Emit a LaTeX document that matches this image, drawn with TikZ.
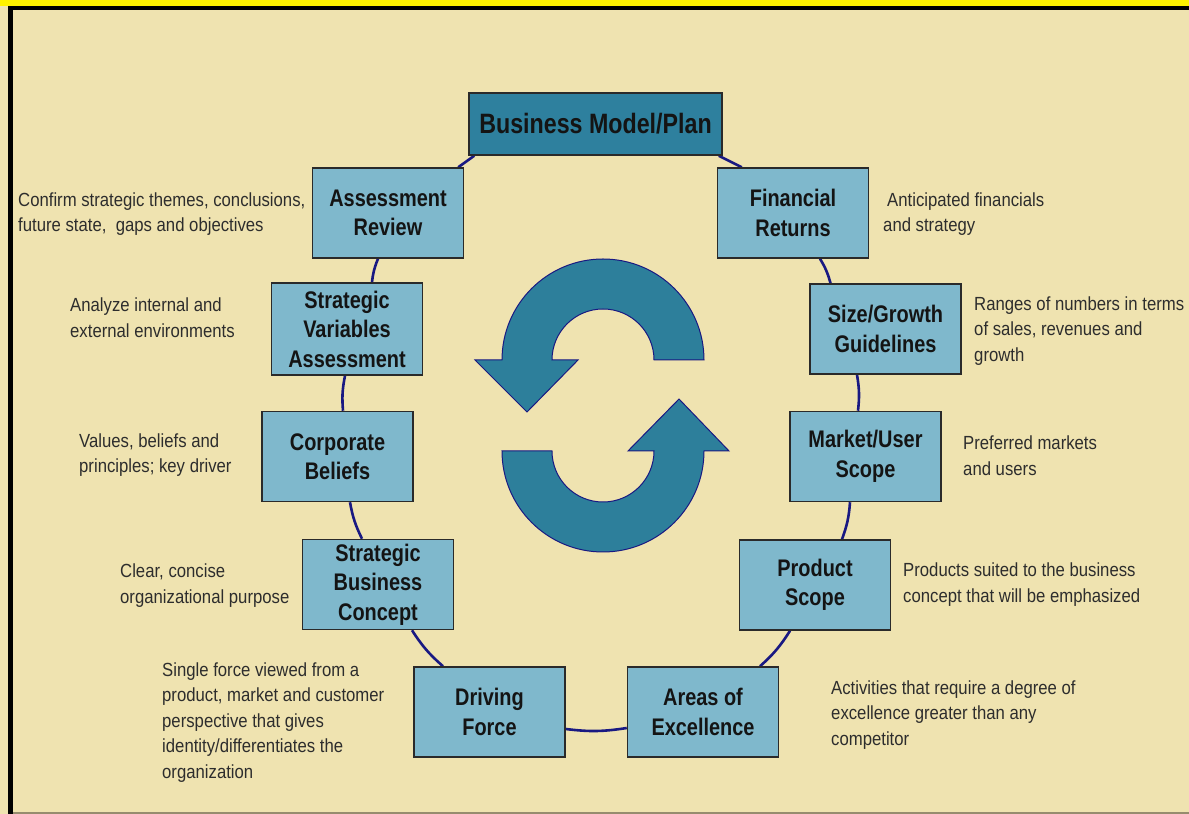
\documentclass[tikz,border=0pt]{standalone}
\usepackage{fontspec}
\setmainfont{Liberation Sans}
\newfontfamily\boxfont[FakeStretch=0.83]{Liberation Sans}
\newfontfamily\notefont[FakeStretch=0.88]{Liberation Sans}
\usetikzlibrary{calc}
\definecolor{cream}{RGB}{239,227,176}
\definecolor{boxblue}{RGB}{127,184,204}
\definecolor{bmblue}{RGB}{46,128,158}
\definecolor{arrowteal}{RGB}{45,127,155}
\definecolor{ringblue}{RGB}{25,25,130}
\definecolor{boxedge}{RGB}{42,42,42}
\definecolor{boxtext}{RGB}{20,20,20}
\definecolor{notetext}{RGB}{45,45,45}
\definecolor{bottomline}{RGB}{150,140,110}
\pgfdeclarelayer{bg}
\pgfsetlayers{bg,main}
\tikzset{
  box/.style={draw=boxedge, line width=1.5pt, fill=boxblue, minimum width=151pt, minimum height=90pt,
    inner sep=0pt, align=center, text=boxtext, font=\boxfont\bfseries\fontsize{24}{29.5}\selectfont},
  note/.style={anchor=west, align=left, inner sep=0pt, text=notetext,
    font=\notefont\fontsize{19}{25.5}\selectfont},
  ring/.style={draw=ringblue, line width=2.6pt},
  arrowshape/.style={fill=arrowteal, draw=ringblue, line width=1pt, line join=miter}
}
\begin{document}
\begin{tikzpicture}[x=1pt,y=1pt]
\useasboundingbox (0,0) rectangle (1189,814);
% boxes
\node[box, minimum width=253pt, minimum height=62pt, fill=bmblue,
  font=\boxfont\bfseries\fontsize{28}{32}\selectfont] (bm) at (595.5,690) {Business Model/Plan};
\node[box] (ar) at (388,601) {Assessment\\Review};
\node[box] (fr) at (793,601) {Financial\\Returns};
\node[box, minimum height=92pt] (sva) at (347,485) {Strategic\\Variables\\Assessment};
\node[box] (sg) at (885.5,485) {Size/Growth\\Guidelines};
\node[box] (cb) at (337.5,357.5) {Corporate\\Beliefs};
\node[box] (mu) at (865.5,357.5) {Market/User\\Scope};
\node[box] (sbc) at (378,229.5) {Strategic\\Business\\Concept};
\node[box] (ps) at (815,229) {Product\\Scope};
\node[box] (df) at (489.5,102) {Driving\\Force};
\node[box] (ae) at (703,102) {Areas of\\Excellence};
% background, frame and ring connectors
\begin{pgfonlayer}{bg}
\fill[cream] (0,0) rectangle (1189,814);
\fill[yellow] (0,808) rectangle (1189,814);
\fill[black] (8,804) rectangle (1189,808);
\fill[black] (8,0) rectangle (13,808);
\fill[bottomline] (13,0) rectangle (1189,2);
\draw[ring] ([xshift=6pt]bm.south west) -- ([xshift=-6pt]ar.north east);
\draw[ring] ([xshift=-4pt]bm.south east) -- ([xshift=25pt]fr.north west);
\draw[ring] ([xshift=-10pt]ar.south) to[bend right=8] ([xshift=25pt]sva.north);
\draw[ring] ([xshift=27pt]fr.south) to[bend left=8] ([xshift=-55pt]sg.north);
\draw[ring] ([xshift=-2pt]sva.south) to[bend right=8] ([xshift=5.5pt]cb.north);
\draw[ring] ([xshift=-28.5pt]sg.south) to[bend left=8] ([xshift=-7.5pt]mu.north);
\draw[ring] ([xshift=12.5pt]cb.south) to[bend right=8] ([xshift=-16pt]sbc.north);
\draw[ring] ([xshift=-15.5pt]mu.south) to[bend left=8] ([xshift=27pt]ps.north);
\draw[ring] ([xshift=34pt]sbc.south) to[bend right=8] ([xshift=-46.5pt]df.north);
\draw[ring] ([xshift=-25pt]ps.south) to[bend left=8] ([xshift=57pt]ae.north);
\draw[ring] ([yshift=-17pt]df.east) to[bend right=8] ([yshift=-16pt]ae.west);
\end{pgfonlayer}
% central cycle arrows
\path[arrowshape] (704,454) arc[start angle=0, end angle=180, radius=101pt]
  -- (475,454) -- (527,402) -- (578,454) -- (552,454)
  arc[start angle=180, end angle=0, radius=51pt] -- cycle;
\path[arrowshape] (502,363) arc[start angle=180, end angle=360, radius=101pt]
  -- (729,363) -- (679,415) -- (628,363) -- (654,363)
  arc[start angle=0, end angle=-180, radius=51pt] -- cycle;
% notes
\node[note] (n1) at (18,600) {Confirm strategic themes, conclusions,\\future state,\ \ gaps and objectives};
\node[note] (n2) at (70,496.5) {Analyze internal and\\external environments};
\node[note] (n3) at (79,359) {Values, beliefs and\\principles; key driver};
\node[note] (n4) at (120,228.5) {Clear, concise\\organizational purpose};
\node[note] (n5) at (162,91.5) {Single force viewed from a\\product, market and customer\\perspective that gives\\identity/differentiates the\\organization};
\node[note] (n6) at (883,600) {\hspace{4pt}Anticipated financials\\and strategy};
\node[note] (n7) at (974,483) {Ranges of numbers in terms\\of sales, revenues and\\growth};
\node[note] (n8) at (963,358.5) {Preferred markets\\and users};
\node[note] (n9) at (903,229.5) {Products suited to the business\\concept that will be emphasized};
\node[note] (n10) at (831,99) {Activities that require a degree of\\excellence greater than any\\competitor};
\end{tikzpicture}
\end{document}
